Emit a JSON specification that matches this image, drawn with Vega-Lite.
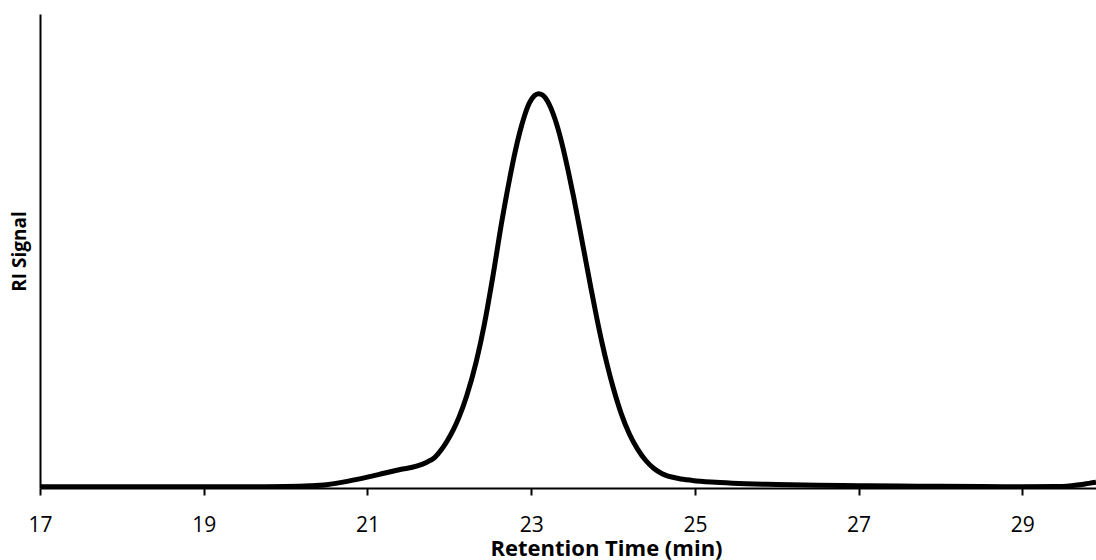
{
  "$schema": "https://vega.github.io/schema/vega-lite/v6.json",
  "width": 1056,
  "height": 474,
  "autosize": {"type": "none"},
  "padding": {"left": 40, "top": 14, "right": 0, "bottom": 72},
  "background": "#ffffff",
  "config": {
    "view": {"stroke": null},
    "axis": {
      "domainColor": "#000000",
      "domainWidth": 2,
      "grid": false,
      "labelColor": "#000000",
      "titleColor": "#000000",
      "labelFont": "Open Sans",
      "titleFont": "Open Sans"
    }
  },
  "data": {
    "values": [
      {"time": 17.0, "signal": 0.25},
      {"time": 17.5, "signal": 0.25},
      {"time": 18.0, "signal": 0.25},
      {"time": 18.5, "signal": 0.25},
      {"time": 19.0, "signal": 0.25},
      {"time": 19.5, "signal": 0.25},
      {"time": 20.0, "signal": 0.3},
      {"time": 20.3, "signal": 0.45},
      {"time": 20.5, "signal": 0.7},
      {"time": 20.78, "signal": 1.5},
      {"time": 21.0, "signal": 2.3},
      {"time": 21.2, "signal": 3.1},
      {"time": 21.4, "signal": 3.9},
      {"time": 21.6, "signal": 4.6},
      {"time": 21.72, "signal": 5.4},
      {"time": 21.82, "signal": 6.4},
      {"time": 21.9, "signal": 8.0},
      {"time": 21.97, "signal": 9.8},
      {"time": 22.05, "signal": 12.3},
      {"time": 22.12, "signal": 15.0},
      {"time": 22.21, "signal": 19.3},
      {"time": 22.33, "signal": 26.7},
      {"time": 22.43, "signal": 34.7},
      {"time": 22.53, "signal": 44.4},
      {"time": 22.64, "signal": 56.1},
      {"time": 22.74, "signal": 65.5},
      {"time": 22.8, "signal": 70.6},
      {"time": 22.86, "signal": 75.0},
      {"time": 22.92, "signal": 78.6},
      {"time": 22.98, "signal": 81.3},
      {"time": 23.04, "signal": 82.8},
      {"time": 23.09, "signal": 83.2},
      {"time": 23.14, "signal": 82.9},
      {"time": 23.2, "signal": 81.6},
      {"time": 23.29, "signal": 77.9},
      {"time": 23.37, "signal": 73.1},
      {"time": 23.45, "signal": 67.1},
      {"time": 23.52, "signal": 61.3},
      {"time": 23.59, "signal": 55.0},
      {"time": 23.66, "signal": 48.6},
      {"time": 23.73, "signal": 42.2},
      {"time": 23.8, "signal": 36.0},
      {"time": 23.87, "signal": 30.3},
      {"time": 23.93, "signal": 25.9},
      {"time": 24.0, "signal": 21.3},
      {"time": 24.1, "signal": 15.7},
      {"time": 24.2, "signal": 11.4},
      {"time": 24.3, "signal": 8.2},
      {"time": 24.4, "signal": 5.8},
      {"time": 24.5, "signal": 4.1},
      {"time": 24.6, "signal": 3.0},
      {"time": 24.8, "signal": 2.0},
      {"time": 24.97, "signal": 1.6},
      {"time": 25.2, "signal": 1.25},
      {"time": 25.46, "signal": 1.0},
      {"time": 26.0, "signal": 0.75},
      {"time": 26.5, "signal": 0.6},
      {"time": 27.0, "signal": 0.5},
      {"time": 27.5, "signal": 0.42},
      {"time": 28.0, "signal": 0.35},
      {"time": 28.5, "signal": 0.3},
      {"time": 29.0, "signal": 0.28},
      {"time": 29.4, "signal": 0.3},
      {"time": 29.6, "signal": 0.5},
      {"time": 29.75, "signal": 0.8},
      {"time": 29.9, "signal": 1.2}
    ]
  },
  "mark": {
    "type": "line",
    "color": "#000000",
    "strokeWidth": 5,
    "interpolate": "monotone",
    "clip": true
  },
  "encoding": {
    "x": {
      "field": "time",
      "type": "quantitative",
      "scale": {"domain": [17, 29.9], "nice": false, "zero": false},
      "axis": {
        "title": "Retention Time (min)",
        "values": [17, 19, 21, 23, 25, 27, 29],
        "format": "d",
        "labelFontSize": 21,
        "labelBaseline": "alphabetic",
        "labelPadding": 36,
        "labelFlush": false,
        "labelOverlap": false,
        "tickColor": "#000000",
        "tickWidth": 2,
        "tickSize": 7,
        "titleFontSize": 22,
        "titleFontWeight": "bold",
        "titleAlign": "left",
        "titleAnchor": "start",
        "titleBaseline": "alphabetic",
        "titleX": 450,
        "titleY": 67
      }
    },
    "y": {
      "field": "signal",
      "type": "quantitative",
      "scale": {"domain": [0, 100], "nice": false},
      "axis": {
        "title": "RI Signal",
        "labels": false,
        "ticks": false,
        "titleFontSize": 19,
        "titleFontWeight": "bold",
        "titleAngle": -90,
        "titleAlign": "center",
        "titleBaseline": "alphabetic",
        "titleX": -15,
        "titleY": 237
      }
    }
  }
}
